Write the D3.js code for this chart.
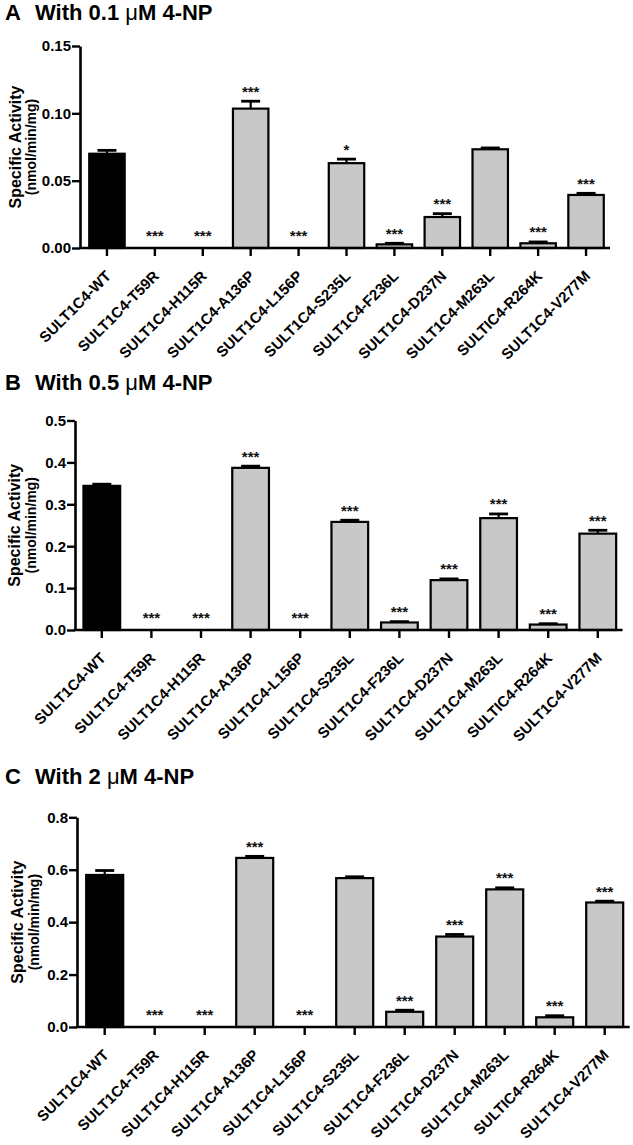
<!DOCTYPE html>
<html><head><meta charset="utf-8">
<script src="https://cdn.jsdelivr.net/npm/d3@7"></script>
<style>
body{margin:0;background:#fff}
svg{display:block}
text{font-family:"Liberation Sans",Arial,Helvetica,sans-serif}
</style>
</head><body>
<svg id="chart" width="633" height="1145"></svg>
<script>
// ---------- data ----------
const categories = ["SULT1C4-WT","SULT1C4-T59R","SULT1C4-H115R","SULT1C4-A136P","SULT1C4-L156P","SULT1C4-S235L","SULT1C4-F236L","SULT1C4-D237N","SULT1C4-M263L","SULTIC4-R264K","SULT1C4-V277M"];

const valuesA = [0.070, 0, 0, 0.1035, 0, 0.063, 0.0027, 0.023, 0.0733, 0.0035, 0.0394];
const errorsA = [0.0025, 0, 0, 0.0055, 0, 0.003, 0.0008, 0.0025, 0.001, 0.001, 0.0012];
const starsA  = ["", "***", "***", "***", "***", "*", "***", "***", "", "***", "***"];
const ticksA  = [0, 0.05, 0.10, 0.15];

const valuesB = [0.344, 0, 0, 0.387, 0, 0.258, 0.018, 0.119, 0.267, 0.013, 0.230];
const errorsB = [0.004, 0, 0, 0.004, 0, 0.004, 0.002, 0.003, 0.010, 0.002, 0.008];
const starsB  = ["", "***", "***", "***", "***", "***", "***", "***", "***", "***", "***"];
const ticksB  = [0, 0.1, 0.2, 0.3, 0.4, 0.5];

const valuesC = [0.580, 0, 0, 0.645, 0, 0.568, 0.058, 0.345, 0.525, 0.037, 0.475];
const errorsC = [0.017, 0, 0, 0.006, 0, 0.005, 0.006, 0.008, 0.006, 0.006, 0.005];
const starsC  = ["", "***", "***", "***", "***", "", "***", "***", "***", "***", "***"];
const ticksC  = [0, 0.2, 0.4, 0.6, 0.8];

const panelLetters = ["A", "B", "C"];
const concentrations = ["0.1", "0.5", "2"];
const yLabel = "Specific Activity";
const yUnit = "(nmol/min/mg)";

// ---------- layout ----------
const layout = [
  {titleY: 20,  axisX: 80, yTop: 46,    y0: 248,  xStart: 83,   xEnd: 610,   yMax: 0.15, fmt: ".2f", lab1X: 21, lab2X: 36},
  {titleY: 390, axisX: 75, yTop: 420.5, y0: 630,  xStart: 77,   xEnd: 622.6, yMax: 0.5,  fmt: ".1f", lab1X: 20, lab2X: 36},
  {titleY: 784, axisX: 77, yTop: 817.3, y0: 1027, xStart: 79.7, xEnd: 629.7, yMax: 0.8,  fmt: ".1f", lab1X: 23, lab2X: 39}
];
const panels = [
  {values: valuesA, errors: errorsA, stars: starsA, ticks: ticksA},
  {values: valuesB, errors: errorsB, stars: starsB, ticks: ticksB},
  {values: valuesC, errors: errorsC, stars: starsC, ticks: ticksC}
];

const svg = d3.select("#chart");
svg.append("rect").attr("width", 633).attr("height", 1145).attr("fill", "#fff");

panels.forEach((p, i) => {
  const L = layout[i];
  const g = svg.append("g");

  // title
  g.append("text").attr("x", 5).attr("y", L.titleY)
    .attr("font-size", 22).attr("font-weight", "bold").text(panelLetters[i]);
  const t = g.append("text").attr("x", 35).attr("y", L.titleY)
    .attr("font-size", 22).attr("font-weight", "bold");
  t.append("tspan").text("With " + concentrations[i] + " ");
  t.append("tspan").attr("font-weight", "normal").text("\u03BC");
  t.append("tspan").text("M 4-NP");

  const x = d3.scaleBand().domain(categories).range([L.xStart, L.xEnd]).padding(0);
  const y = d3.scaleLinear().domain([0, L.yMax]).range([L.y0, L.yTop]);
  const bw = x.bandwidth();
  const barW = bw * 0.74;

  // y axis
  const ya = g.append("g").attr("transform", `translate(${L.axisX},0)`)
    .call(d3.axisLeft(y).tickValues(p.ticks).tickFormat(d3.format(L.fmt)).tickSize(8).tickSizeOuter(0).tickPadding(1));
  ya.select(".domain").attr("stroke", "#000").attr("stroke-width", 2.6);
  ya.selectAll(".tick line").attr("stroke", "#000").attr("stroke-width", 2.4);
  ya.selectAll(".tick text").attr("font-size", 15).attr("font-weight", "bold").attr("fill", "#000")
    .attr("font-family", '"Liberation Sans",Arial,sans-serif');

  // y labels
  const cy = (L.y0 + L.yTop) / 2;
  g.append("text").attr("transform", `translate(${L.lab1X},${cy}) rotate(-90)`)
    .attr("text-anchor", "middle").attr("font-size", 16).attr("font-weight", "bold").text(yLabel);
  g.append("text").attr("transform", `translate(${L.lab2X},${cy}) rotate(-90)`)
    .attr("text-anchor", "middle").attr("font-size", 14).attr("font-weight", "bold").text(yUnit);

  // bars
  const bars = g.append("g");
  categories.forEach((c, k) => {
    const v = p.values[k];
    if (v <= 0) return;
    bars.append("rect")
      .attr("x", x(c) + (bw - barW) / 2).attr("width", barW)
      .attr("y", y(v)).attr("height", L.y0 - y(v))
      .attr("fill", k === 0 ? "#000" : "#c8c8c8")
      .attr("stroke", "#000").attr("stroke-width", 2.2);
  });

  // error bars
  categories.forEach((c, k) => {
    const v = p.values[k], e = p.errors[k];
    if (!(e > 0)) return;
    const cx = x(c) + bw / 2;
    g.append("line").attr("x1", cx).attr("x2", cx).attr("y1", y(v)).attr("y2", y(v + e))
      .attr("stroke", "#000").attr("stroke-width", 2.2);
    g.append("line").attr("x1", cx - 9.5).attr("x2", cx + 9.5).attr("y1", y(v + e)).attr("y2", y(v + e))
      .attr("stroke", "#000").attr("stroke-width", 2.8);
  });

  // x axis
  const xa = g.append("g").attr("transform", `translate(0,${L.y0})`)
    .call(d3.axisBottom(x).tickSize(8).tickSizeOuter(0));
  xa.select(".domain").remove();
  xa.append("line").attr("x1", L.axisX - 1.3).attr("x2", L.xEnd).attr("y1", 0).attr("y2", 0)
    .attr("stroke", "#000").attr("stroke-width", 2.6);
  xa.selectAll(".tick line").attr("stroke", "#000").attr("stroke-width", 2.4);
  xa.selectAll(".tick text")
    .attr("x", 0).attr("y", 0).attr("dy", 0)
    .attr("text-anchor", "end")
    .attr("transform", "translate(5,29) rotate(-45)")
    .attr("font-size", 15).attr("font-weight", "bold").attr("fill", "#000")
    .attr("font-family", '"Liberation Sans",Arial,sans-serif');

  // significance stars
  categories.forEach((c, k) => {
    const s = p.stars[k];
    if (!s) return;
    const v = p.values[k], e = p.errors[k];
    const cx = x(c) + bw / 2;
    const yy = v > 0 ? y(v + e) - 4.5 : L.y0 - 7.5;
    g.append("text").attr("x", cx).attr("y", yy).attr("text-anchor", "middle")
      .attr("font-size", 15).attr("font-weight", "bold").attr("fill", "#111").text(s);
  });
});
</script>
</body></html>
